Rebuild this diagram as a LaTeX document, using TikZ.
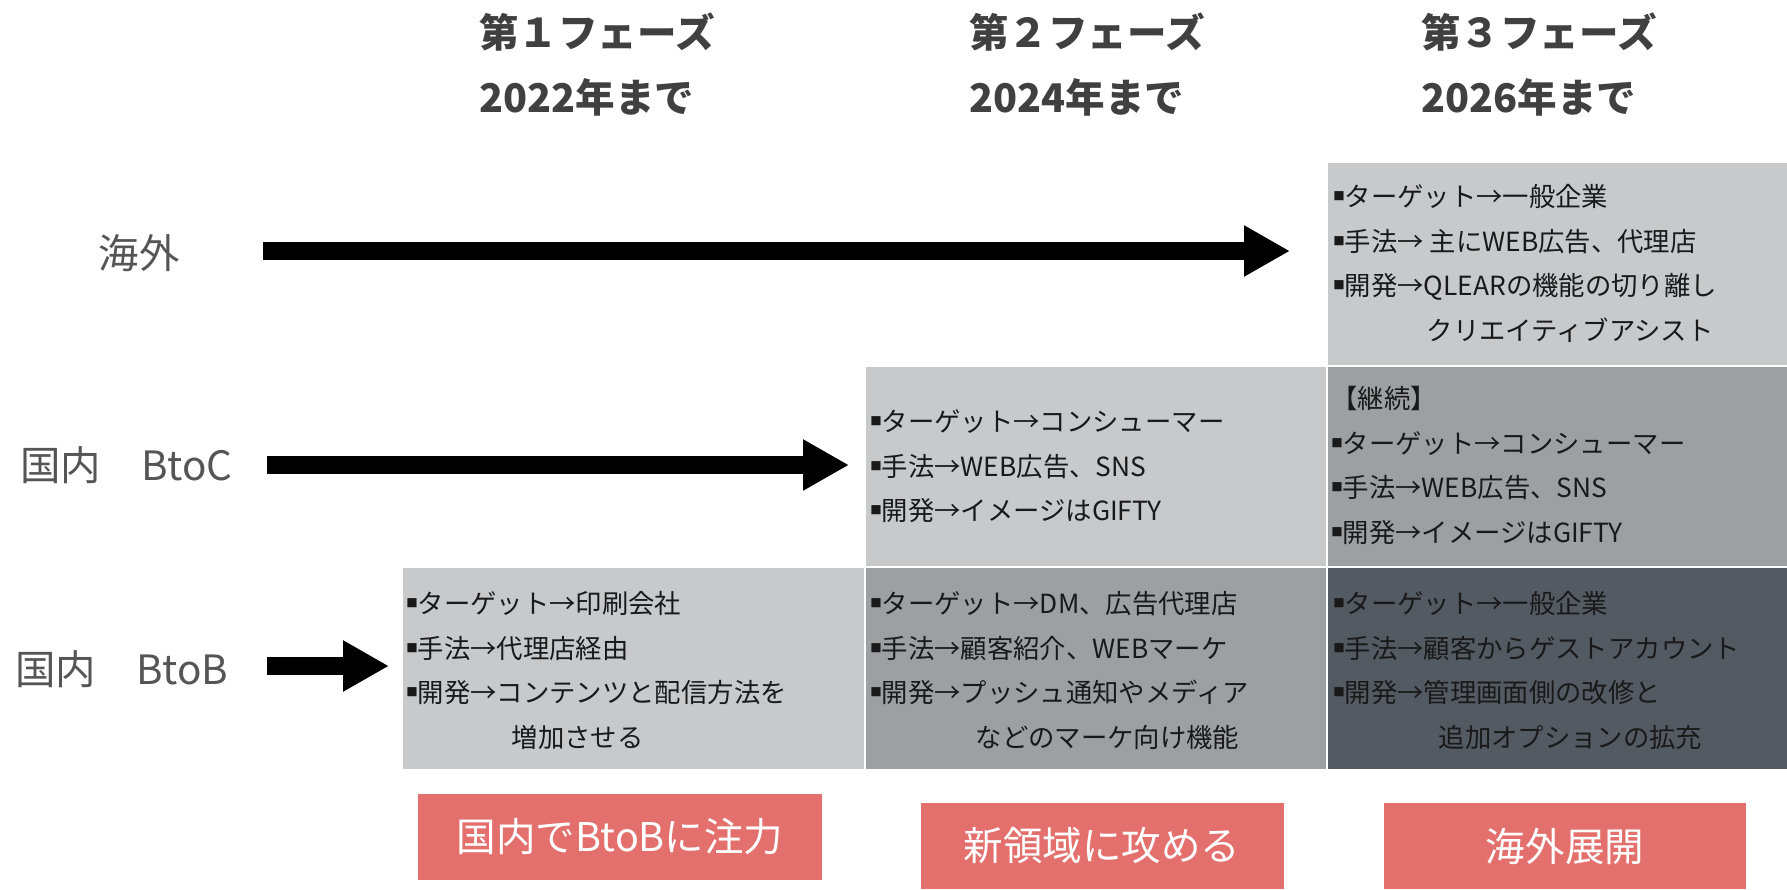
\documentclass[tikz,border=0pt]{standalone}
\usepackage{fontspec}
\setmainfont{Noto Sans CJK JP}
\usetikzlibrary{arrows.meta}

\definecolor{cellLight}{HTML}{C8C9CB}
\definecolor{cellMid}{HTML}{9DA0A3}
\definecolor{cellDark}{HTML}{545A62}
\definecolor{tagRed}{HTML}{E4706D}
\definecolor{headGray}{HTML}{404040}
\definecolor{labelGray}{HTML}{555555}

% small square bullet
\newcommand{\Sq}{\raisebox{0.22em}{\fontsize{6.5pt}{6.5pt}\selectfont ■}}

% one grey cell of the table: name, left, top, right, bottom, style
\newcommand{\DrawCell}[6]{
    \node[cell, #6, anchor=north west,
          minimum width={(#4-#2)*0.02cm}, minimum height={(#5-#3)*0.02cm}]
        (#1) at (#2, #3) {};
}
% the lines of text in a cell: name, left, first line, lines
\newcommand{\CellText}[4]{
    \foreach \txt [count=\i] in {#4}
        \node[celltext] (#1-\i) at (#2, {#3+44.5*(\i-1)}) {\txt};
}

\begin{document}
\begin{tikzpicture}[
        x=0.02cm, y=-0.02cm,
        cell/.style={rectangle, draw=none, inner sep=0pt},
        light/.style={fill=cellLight},
        mid/.style={fill=cellMid},
        dark/.style={fill=cellDark},
        celltext/.style={anchor=west, inner sep=0pt, text=black!90,
            text height=0.88em, text depth=0.12em,
            font=\fontsize{15pt}{18pt}\selectfont},
        header/.style={anchor=west, inner sep=0pt, text=headGray,
            font=\fontsize{22.5pt}{26pt}\selectfont\bfseries},
        rowlabel/.style={inner sep=0pt, text=labelGray,
            font=\fontsize{23pt}{26pt}\selectfont},
        tag/.style={fill=tagRed, text=white, inner sep=0pt,
            minimum height=86*0.02cm,
            font=\fontsize{22.5pt}{26pt}\selectfont},
        bigarrow/.style={line width=18*0.02cm, black,
            -{Triangle[length=46*0.02cm, width=48*0.02cm]}}
    ]
  \useasboundingbox (0,0) rectangle (1787,889);

  %%% Phase headers
  \node[header] (ph1) at (479,32) {第１フェーズ};
  \node[header] (yr1) at (479,97) {2022年まで};
  \node[header] (ph2) at (969,32) {第２フェーズ};
  \node[header] (yr2) at (969,97) {2024年まで};
  \node[header] (ph3) at (1421,32) {第３フェーズ};
  \node[header] (yr3) at (1421,97) {2026年まで};

  %%% Row labels
  \node[rowlabel] (abroad) at (139,253) {海外};
  \node[rowlabel, anchor=west] (btoc) at (20,465) {国内　BtoC};
  \node[rowlabel, anchor=west] (btob) at (15,669) {国内　BtoB};

  %%% Cells
  \DrawCell{c31}{1328}{163}{1787}{365}{light}
  \DrawCell{c22}{866}{367}{1326}{566}{light}
  \DrawCell{c32}{1328}{367}{1787}{566}{mid}
  \DrawCell{c13}{403}{568}{864}{769}{light}
  \DrawCell{c23}{866}{568}{1326}{769}{mid}
  \DrawCell{c33}{1328}{568}{1787}{769}{dark}

  %%% Cell texts
  \CellText{t31}{1333}{200}{\Sq ターゲット→一般企業, \Sq 手法→ 主にWEB広告、代理店,
      \Sq 開発→QLEARの機能の切り離し, \hspace*{3.55em}クリエイティブアシスト}
  \CellText{t22}{870}{425}{\Sq ターゲット→コンシューマー, \Sq 手法→WEB広告、SNS,
      \Sq 開発→イメージはGIFTY}
  \CellText{t32}{1331}{402}{【継続】, \Sq ターゲット→コンシューマー, \Sq 手法→WEB広告、SNS,
      \Sq 開発→イメージはGIFTY}
  \CellText{t13}{406}{607}{\Sq ターゲット→印刷会社, \Sq 手法→代理店経由,
      \Sq 開発→コンテンツと配信方法を, \hspace*{4em}増加させる}
  \CellText{t23}{870}{607}{\Sq ターゲット→DM、広告代理店, \Sq 手法→顧客紹介、WEBマーケ,
      \Sq 開発→プッシュ通知やメディア, \hspace*{4em}などのマーケ向け機能}
  \CellText{t33}{1333}{607}{\Sq ターゲット→一般企業, \Sq 手法→顧客からゲストアカウント,
      \Sq 開発→管理画面側の改修と, \hspace*{4em}追加オプションの拡充}

  %%% Arrows
  \coordinate (a1s) at (263,251);
  \coordinate (a1e) at (1290,251);
  \coordinate (a2s) at (267,465);
  \coordinate (a2e) at (849,465);
  \coordinate (a3s) at (267,666);
  \coordinate (a3e) at (389,666);
  \draw[bigarrow] (a1s) -- (a1e);
  \draw[bigarrow] (a2s) -- (a2e);
  \draw[bigarrow] (a3s) -- (a3e);

  %%% Goals of each phase
  \node[tag, minimum width=404*0.02cm] (goal1) at (620,837) {国内でBtoBに注力};
  \node[tag, minimum width=363*0.02cm] (goal2) at (1102,846) {新領域に攻める};
  \node[tag, minimum width=362*0.02cm] (goal3) at (1565,846) {海外展開};
\end{tikzpicture}
\end{document}
